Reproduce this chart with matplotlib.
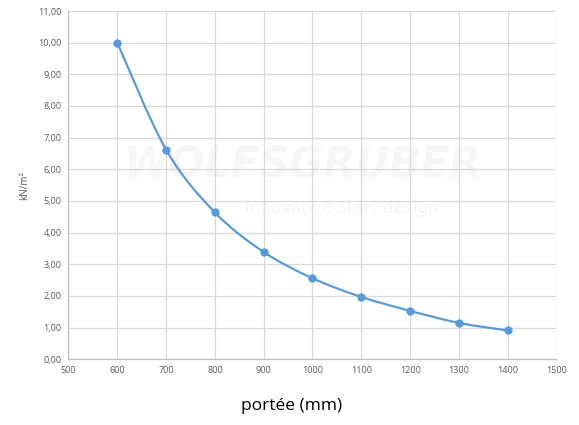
import matplotlib.pyplot as plt
from matplotlib.path import Path
from matplotlib.patches import PathPatch
import numpy as np

# span (mm) and load (kN/m2)
spans = [600, 700, 800, 900, 1000, 1100, 1200, 1300, 1400]
loads = [10.00, 6.62, 4.64, 3.39, 2.56, 1.97, 1.53, 1.15, 0.91]

x_ticks = [500, 600, 700, 800, 900, 1000, 1100, 1200, 1300, 1400, 1500]
y_ticks = [0, 1, 2, 3, 4, 5, 6, 7, 8, 9, 10, 11]

line_color = '#5B9BD5'
grid_color = '#d9d9d9'
tick_color = '#595959'


def smooth_path(xs, ys, tension=1/6):
    """Excel-like smoothed line: cubic Bezier segments through the points."""
    xs = np.asarray(xs, float)
    ys = np.asarray(ys, float)
    verts = [(xs[0], ys[0])]
    codes = [Path.MOVETO]
    n = len(xs)
    for i in range(n - 1):
        p0 = np.array([xs[max(i - 1, 0)], ys[max(i - 1, 0)]])
        p1 = np.array([xs[i], ys[i]])
        p2 = np.array([xs[i + 1], ys[i + 1]])
        p3 = np.array([xs[min(i + 2, n - 1)], ys[min(i + 2, n - 1)]])
        c1 = p1 + (p2 - p0) * tension
        c2 = p2 - (p3 - p1) * tension
        verts += [tuple(c1), tuple(c2), tuple(p2)]
        codes += [Path.CURVE4] * 3
    return Path(verts, codes)


fig = plt.figure(figsize=(5.79, 4.25), dpi=100)
ax = fig.add_axes([0.1183, 0.1546, 0.8428, 0.8195])

ax.set_xlim(500, 1500)
ax.set_ylim(0, 11)
ax.set_xticks(x_ticks)
ax.set_yticks(y_ticks)
ax.set_xticklabels([str(v) for v in x_ticks])
ax.set_yticklabels([f'{v:.2f}'.replace('.', ',') for v in y_ticks])
ax.tick_params(length=0, labelsize=6.5, colors=tick_color, pad=5)
for lab in ax.get_xticklabels() + ax.get_yticklabels():
    lab.set_family('Open Sans')

ax.grid(True, color=grid_color, linewidth=0.9)
ax.set_axisbelow(True)
for side in ['top', 'right']:
    ax.spines[side].set_visible(False)
for side in ['left', 'bottom']:
    ax.spines[side].set_color('#bfbfbf')
    ax.spines[side].set_linewidth(0.9)

# faint watermark behind the grid
ax.text(0.48, 0.555, 'WOLFSGRUBER', transform=ax.transAxes, ha='center', va='center',
        fontsize=30, fontweight='bold', style='italic', color='#f6f6f6', zorder=0)
ax.text(0.56, 0.435, 'Innovative steel design', transform=ax.transAxes, ha='center',
        va='center', fontsize=12, color='#f4f4f4', zorder=0)

ax.add_patch(PathPatch(smooth_path(spans, loads), facecolor='none',
                       edgecolor=line_color, linewidth=1.6, zorder=3))
ax.plot(spans, loads, linestyle='none', marker='o', markersize=5,
        color=line_color, zorder=4)

ax.set_ylabel('kN/m²', fontsize=7, color=tick_color, family='Open Sans', labelpad=6)
ax.set_xlabel('portée (mm)', fontsize=12.5, color='black', family='Open Sans')
ax.xaxis.set_label_coords(0.458, -0.135)
ax.xaxis.label.set_va('center')

fig.savefig('out.png', dpi=100)
